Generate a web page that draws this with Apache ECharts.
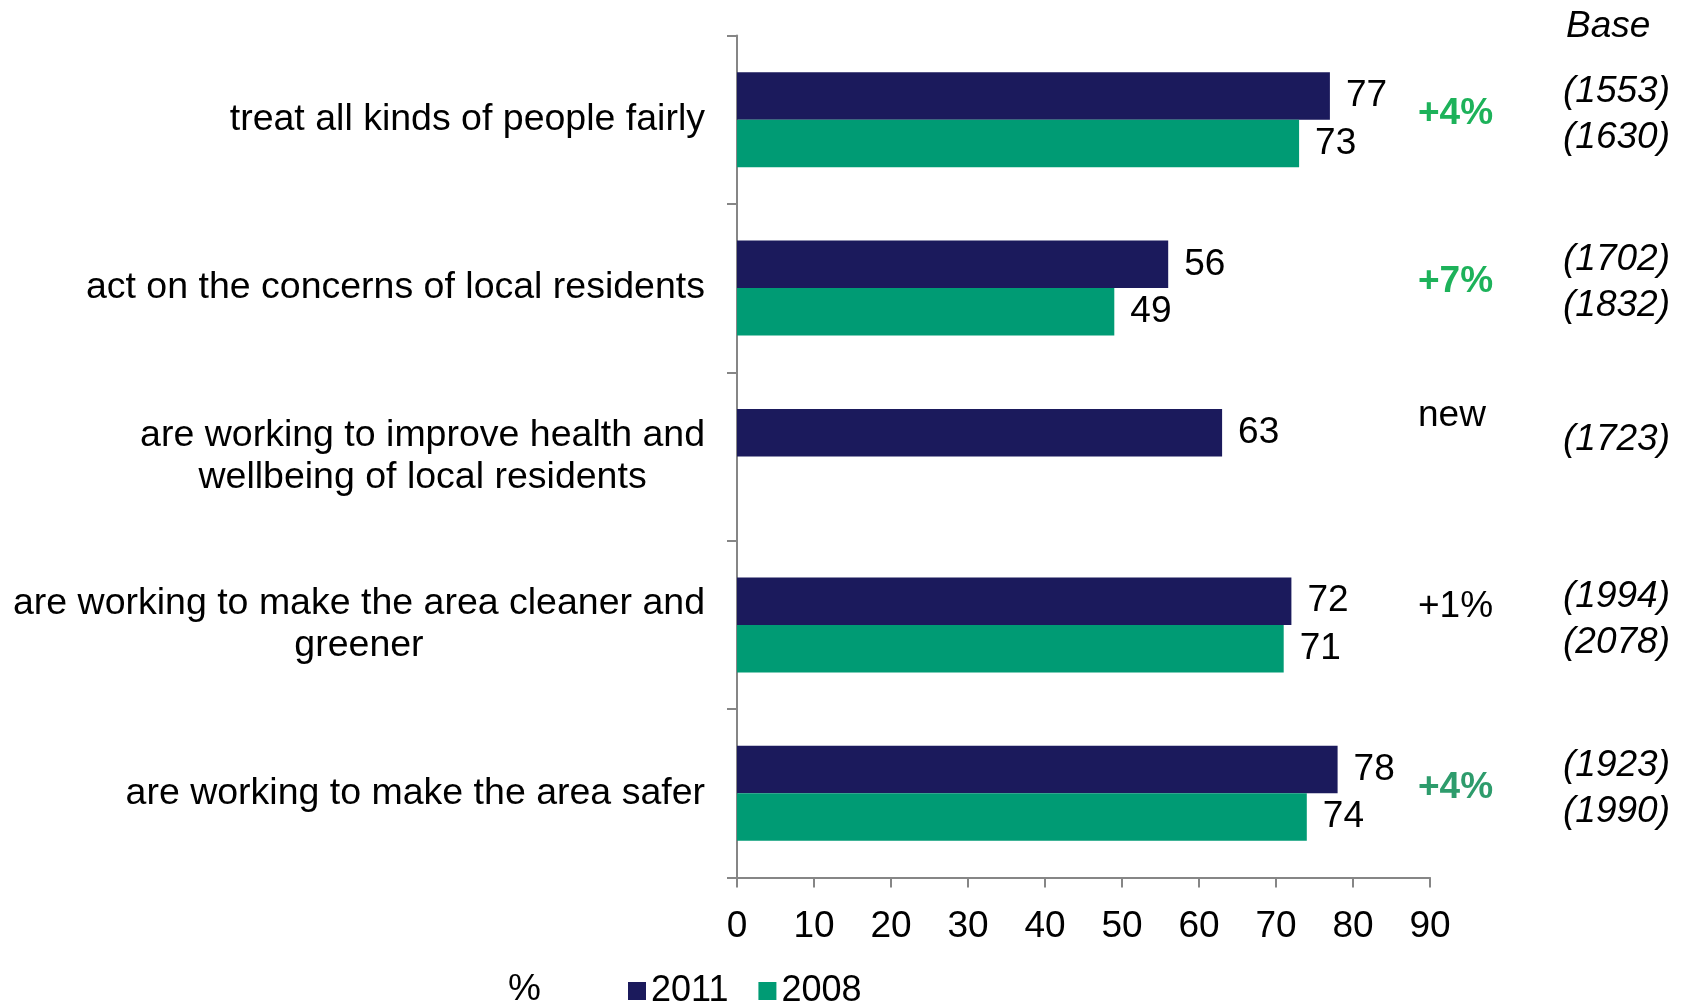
<!DOCTYPE html>
<html><head><meta charset="utf-8">
<script src="https://cdn.jsdelivr.net/npm/echarts@6/dist/echarts.min.js"></script>
<style>html,body{margin:0;padding:0;background:#fff}#c{width:1684px;height:1004px}</style>
</head><body><div id="c"></div>
<script>
const categories = [
  'treat all kinds of people fairly',
  'act on the concerns of local residents',
  'are working to improve health and\nwellbeing of local residents',
  'are working to make the area cleaner and\ngreener',
  'are working to make the area safer'
];
const values2011 = [77, 56, 63, 72, 78];
const values2008 = [73, 49, null, 71, 74];
const changeLabels = ['+4%', '+7%', 'new', '+1%', '+4%'];
const changeStyles = ['g', 'g', 'n', 'k', 't'];
const base2011 = ['(1553)', '(1702)', '(1723)', '(1994)', '(1923)'];
const base2008 = ['(1630)', '(1832)', '', '(2078)', '(1990)'];
const seriesNames = ['2011', '2008'];
const xMin = 0, xMax = 90, xStep = 10;

const FONT = '"Liberation Sans", Arial, sans-serif';
const NAVY = '#1B1A5C', TEAL = '#009B74';
const AXIS = '#868686';
const FS = 37;

const chart = echarts.init(document.getElementById('c'), null, {renderer: 'canvas'});
chart.setOption({
  backgroundColor: '#fff',
  animation: false,
  textStyle: {fontFamily: FONT},
  title: [
    {text: 'Base', left: 1561, top: 3, textStyle: {fontFamily: FONT, fontSize: FS, fontStyle: 'italic', fontWeight: 'normal', color: '#000'}},
    {text: '%', left: 503, top: 966, textStyle: {fontFamily: FONT, fontSize: FS, fontWeight: 'normal', color: '#000'}}
  ],
  legend: {
    left: 623, top: 968,
    itemWidth: 18, itemHeight: 18, itemGap: 30,
    icon: 'rect',
    textStyle: {fontFamily: FONT, fontSize: 36, color: '#000'},
    data: seriesNames
  },
  grid: {left: 737, right: 254, top: 35.5, bottom: 126.5, containLabel: false},
  xAxis: {
    type: 'value', min: xMin, max: xMax, interval: xStep,
    axisLine: {show: true, lineStyle: {color: AXIS, width: 2}},
    axisTick: {show: true, length: 10, lineStyle: {color: AXIS, width: 2}},
    splitLine: {show: false},
    axisLabel: {fontFamily: FONT, fontSize: FS, color: '#000', margin: 31}
  },
  yAxis: [
    {
      type: 'category', inverse: true, data: categories,
      axisLine: {show: true, lineStyle: {color: AXIS, width: 2}},
      axisTick: {show: true, length: 10, lineStyle: {color: AXIS, width: 2}},
      axisLabel: {
        margin: 32, align: 'right',
        formatter: v => v.split('\n').map(s => '{c|' + s + '}').join('\n'),
        rich: {c: {fontFamily: FONT, fontSize: 37.5, lineHeight: 42, color: '#000', align: 'center', padding: [0, 0, 0, 0]}}
      }
    },
    {
      type: 'category', inverse: true, data: changeLabels, position: 'right',
      axisLine: {show: false}, axisTick: {show: false},
      axisLabel: {
        margin: -12, align: 'left',
        formatter: (v, i) => '{' + changeStyles[i] + '|' + v + '}',
        rich: {
          g: {fontFamily: FONT, fontSize: FS, fontWeight: 'bold', color: '#1DB25A', padding: [0, 0, 12, 0]},
          t: {fontFamily: FONT, fontSize: FS, fontWeight: 'bold', color: '#2E9C6C', padding: [0, 0, 12, 0]},
          k: {fontFamily: FONT, fontSize: FS, color: '#000', padding: [0, 0, 36, 0]},
          n: {fontFamily: FONT, fontSize: FS, color: '#000', padding: [0, 0, 82, 0]}
        }
      }
    },
    {
      type: 'category', inverse: true, data: base2011, position: 'right',
      axisLine: {show: false}, axisTick: {show: false},
      axisLabel: {
        margin: 133, align: 'left',
        formatter: (v, i) => base2008[i] ? '{b|' + v + '}\n{b|' + base2008[i] + '}' : '{s|' + v + '}',
        rich: {
          b: {fontFamily: FONT, fontSize: FS, fontStyle: 'italic', color: '#000', lineHeight: 46, padding: [0, 0, 10, 0]},
          s: {fontFamily: FONT, fontSize: FS, fontStyle: 'italic', color: '#000', lineHeight: 46, padding: [0, 0, 34, 0]}
        }
      }
    }
  ],
  series: [
    {
      name: seriesNames[0], type: 'bar', yAxisIndex: 0, data: values2011,
      itemStyle: {color: NAVY}, barGap: '0%', barCategoryGap: '43.6%',
      label: {show: true, position: 'right', distance: 16, fontFamily: FONT, fontSize: FS, color: '#000'}
    },
    {
      name: seriesNames[1], type: 'bar', yAxisIndex: 0, data: values2008,
      itemStyle: {color: TEAL}, barGap: '0%', barCategoryGap: '43.6%',
      label: {show: true, position: 'right', distance: 16, fontFamily: FONT, fontSize: FS, color: '#000'}
    }
  ]
});
</script>
</body></html>
